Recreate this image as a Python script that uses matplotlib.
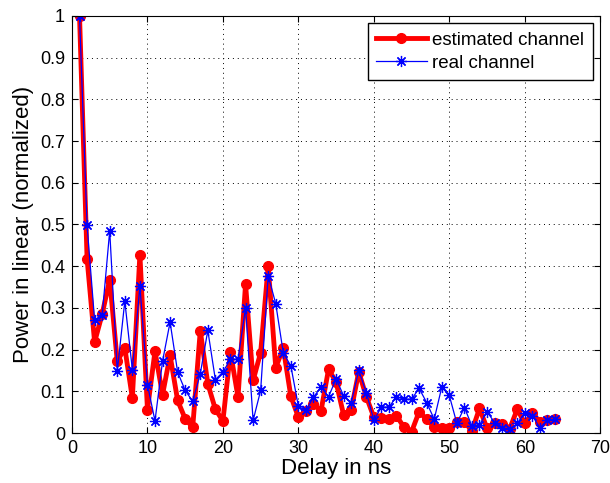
import numpy as np
import matplotlib.pyplot as plt

# Delay taps (ns)
delay = np.arange(1, 65)

# Estimated channel power (normalized)
estimated = [1.0, 0.418, 0.218, 0.285, 0.368, 0.172, 0.204, 0.084, 0.428, 0.056,
             0.196, 0.092, 0.186, 0.078, 0.034, 0.014, 0.245, 0.118, 0.057, 0.029,
             0.194, 0.086, 0.357, 0.126, 0.193, 0.400, 0.157, 0.204, 0.088, 0.038,
             0.053, 0.070, 0.053, 0.153, 0.122, 0.043, 0.055, 0.147, 0.087, 0.038,
             0.035, 0.034, 0.041, 0.014, 0.003, 0.051, 0.033, 0.015, 0.011, 0.012,
             0.027, 0.027, 0.005, 0.059, 0.011, 0.025, 0.022, 0.010, 0.057, 0.023,
             0.047, 0.027, 0.031, 0.033]

# Real channel power (normalized)
real = [1.0, 0.498, 0.270, 0.282, 0.485, 0.148, 0.316, 0.152, 0.352, 0.116,
        0.029, 0.172, 0.266, 0.146, 0.102, 0.076, 0.142, 0.246, 0.128, 0.146,
        0.177, 0.177, 0.300, 0.030, 0.102, 0.377, 0.310, 0.192, 0.161, 0.064,
        0.054, 0.086, 0.110, 0.087, 0.130, 0.089, 0.073, 0.150, 0.097, 0.031,
        0.062, 0.062, 0.087, 0.081, 0.081, 0.107, 0.073, 0.033, 0.110, 0.090,
        0.023, 0.061, 0.017, 0.019, 0.051, 0.025, 0.011, 0.009, 0.023, 0.049,
        0.041, 0.013, 0.031, 0.033]

plt.rcParams['font.family'] = ['Liberation Sans', 'DejaVu Sans']

fig = plt.figure(figsize=(6.10, 4.83), dpi=100)
ax = fig.add_axes([0.118, 0.1035, 0.866, 0.8635])

ax.plot(delay, estimated, color='red', linewidth=3.5, marker='o', markersize=7,
        label='estimated channel')
ax.plot(delay, real, color='blue', linewidth=0.9, marker=(8, 2, 0), markersize=8,
        markeredgewidth=0.9, label='real channel')

ax.set_xlim(0, 70)
ax.set_ylim(0, 1)
ax.set_xticks(np.arange(0, 71, 10))
ax.set_yticks(np.arange(0, 1.01, 0.1))
ax.set_yticklabels(['0', '0.1', '0.2', '0.3', '0.4', '0.5', '0.6', '0.7', '0.8', '0.9', '1'])
ax.tick_params(direction='in', top=True, right=True, labelsize=13, length=4, pad=5)
ax.grid(True, linestyle=(0, (1, 4)), color='black', linewidth=0.7)
ax.set_xlabel('Delay in ns', fontsize=16, labelpad=1)
ax.set_ylabel('Power in linear (normalized)', fontsize=16, labelpad=4)

leg = ax.legend(loc='upper right', fontsize=13.5, fancybox=False, framealpha=1,
                edgecolor='black', borderaxespad=0.4, handlelength=2.7,
                handletextpad=0.3, labelspacing=0.3, borderpad=0.45)
leg.get_frame().set_linewidth(1.0)

plt.savefig('out.png', dpi=100)
